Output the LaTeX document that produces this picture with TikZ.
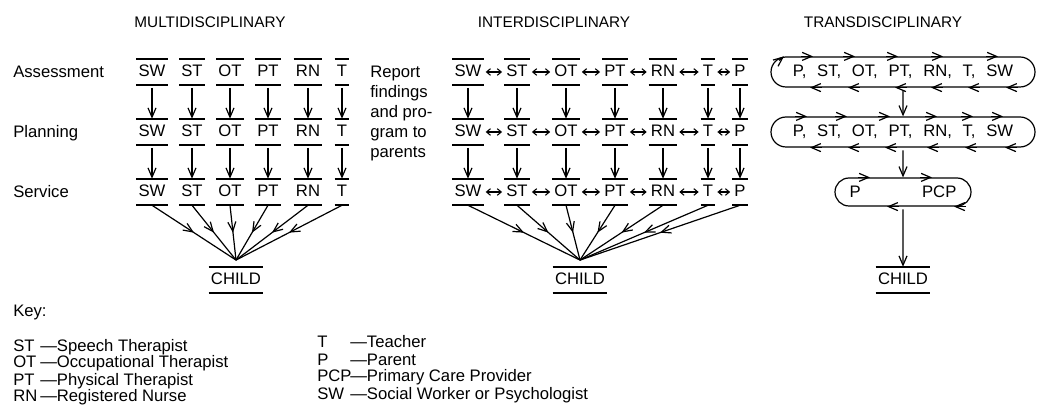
\documentclass[tikz,border=0pt]{standalone}
\usepackage{fontspec}
\setmainfont{Liberation Sans}
\usetikzlibrary{arrows.meta,shapes.misc,decorations.markings}

\newcommand\labsize{\fontsize{12.5}{15}\selectfont}
\newcommand\headsize{\fontsize{11.5}{14}\selectfont}

\tikzset{
  barb/.tip={Straight Barb[length=7pt,width=6pt]},
  role/.style={font=\labsize, inner xsep=1.5pt, inner ysep=4.5pt,
    text height=9pt, text depth=1.5pt,
    append after command={
      (\tikzlastnode.north west) edge[line width=1.2pt] (\tikzlastnode.north east)
      (\tikzlastnode.south west) edge[line width=1.2pt] (\tikzlastnode.south east)}},
  godown/.style={-barb, line width=0.9pt, shorten <=2pt},
  twoway/.style={{Straight Barb[length=3pt,width=5pt]}-{Straight Barb[length=3pt,width=5pt]},
    line width=0.8pt, shorten <=1.5pt, shorten >=1.5pt},
  midarr/.style={line width=0.9pt, decoration={markings,
    mark=at position 0.5 with {\arrow{Straight Barb[length=7pt,width=6pt]}}},
    postaction={decorate}},
  loopbox/.style={draw, rounded rectangle, line width=0.9pt, inner xsep=0pt,
    font={\labsize\spaceskip=8pt\relax}},
  lbl/.style={font=\labsize, anchor=west, inner sep=0pt, text height=9pt, text depth=0pt},
}

\begin{document}
\begin{tikzpicture}[x=0.75pt,y=-0.75pt]
  \useasboundingbox (0,0) rectangle (1038,416);
  %% Headings
  \node[font=\headsize] (hmulti) at (210,22) {MULTIDISCIPLINARY};
  \node[font=\headsize] (hinter) at (554,22) {INTERDISCIPLINARY};
  \node[font=\headsize] (htrans) at (883,22) {TRANSDISCIPLINARY};
  %% Stages
  \foreach \s/\y [count=\r] in {Assessment/72,Planning/132,Service/192}
    \node[lbl] (stage\r) at (13,\y) {\s};

  %% Multidisciplinary
  \foreach \y [count=\r] in {72,132,192}
    \foreach \t/\x [count=\c] in {SW/152,ST/192,OT/230,PT/268,RN/308,T/342}
      \node[role] (m\r\c) at (\x,\y) {\t};
  \node[role] (mchild) at (236,280) {CHILD};
  \coordinate (mfoc) at ([yshift=5pt]mchild.north);
  \foreach \c in {1,...,6} {
    \draw[godown] (m1\c) -- (m2\c);
    \draw[godown] (m2\c) -- (m3\c);
    \draw[midarr] (m3\c.south) -- (mfoc);
  }

  %% Interdisciplinary
  \node[font=\labsize, align=left, anchor=north west, inner sep=0pt] (report) at (370,66)
    {Report\\findings\\and pro-\\gram to\\parents};
  \foreach \y [count=\r] in {72,132,192}
    \foreach \t/\x [count=\c] in {SW/468,ST/517,OT/566,PT/615,RN/663,T/708,P/740}
      \node[role] (i\r\c) at (\x,\y) {\t};
  \node[role] (ichild) at (580,280) {CHILD};
  \coordinate (ifoc) at ([yshift=5pt]ichild.north);
  \foreach \c [evaluate=\c as \n using int(\c+1)] in {1,...,6}
    \foreach \r in {1,2,3}
      \draw[twoway] (i\r\c) -- (i\r\n);
  \foreach \c in {1,...,7} {
    \draw[godown] (i1\c) -- (i2\c);
    \draw[godown] (i2\c) -- (i3\c);
    \draw[midarr] (i3\c.south) -- (ifoc);
  }

  %% Transdisciplinary
  \node[loopbox, minimum width=198pt, minimum height=22.5pt] (t1) at (903,72) {P, ST, OT, PT, RN, T, SW};
  \node[loopbox, minimum width=198pt, minimum height=22.5pt] (t2) at (903,132) {P, ST, OT, PT, RN, T, SW};
  \node[loopbox, minimum width=102pt, minimum height=21pt] (t3) at (903,192) {P\hspace{46pt}PCP};
  \node[role] (tchild) at (903,280) {CHILD};
  \draw[godown] (t1) -- (t2);
  \draw[godown] (t2) -- (t3);
  \draw[godown] (t3) -- (tchild);
  \foreach \dx in {-90,-48,-5,40,95}
    \draw[-barb, line width=0.9pt] (t1.north) ++(\dx-12,0) -- ++(12,0);
  \foreach \dx in {-93,-55,-8,28,65,103}
    \draw[-barb, line width=0.9pt] (t1.south) ++(\dx+12,0) -- ++(-12,0);
  \draw[-barb, line width=0.9pt] (t1.north) ++(-124,4) -- ++(5,-4);
  \foreach \dx in {-96,-56,-13,34,70,100}
    \draw[-barb, line width=0.9pt] (t2.north) ++(\dx-12,0) -- ++(12,0);
  \foreach \dx in {-93,-55,-18,24,62,102}
    \draw[-barb, line width=0.9pt] (t2.south) ++(\dx+12,0) -- ++(-12,0);
  \foreach \dx in {-33,29}
    \draw[-barb, line width=0.9pt] (t3.north) ++(\dx-12,0) -- ++(12,0);
  \foreach \dx in {-16,51}
    \draw[-barb, line width=0.9pt] (t3.south) ++(\dx+12,0) -- ++(-12,0);

  %% Key
  \node[lbl] (key) at (13,311) {Key:};
  \foreach \ab/\tx [count=\i] in {ST/Speech Therapist,OT/Occupational Therapist,
      PT/Physical Therapist,RN/Registered Nurse} {
    \node[lbl] (kab\i) at (13,328+17*\i) {\ab};
    \node[lbl] (ktx\i) at (40,328+17*\i) {\textemdash\tx};
  }
  \foreach \ab/\tx [count=\i] in {T/Teacher,P/Parent,
      PCP/Primary Care Provider,SW/Social Worker or Psychologist} {
    \node[lbl] (kbr\i) at (317,325+17*\i) {\ab};
    \node[lbl] (ktr\i) at (350,325+17*\i) {\textemdash\tx};
  }
\end{tikzpicture}
\end{document}
